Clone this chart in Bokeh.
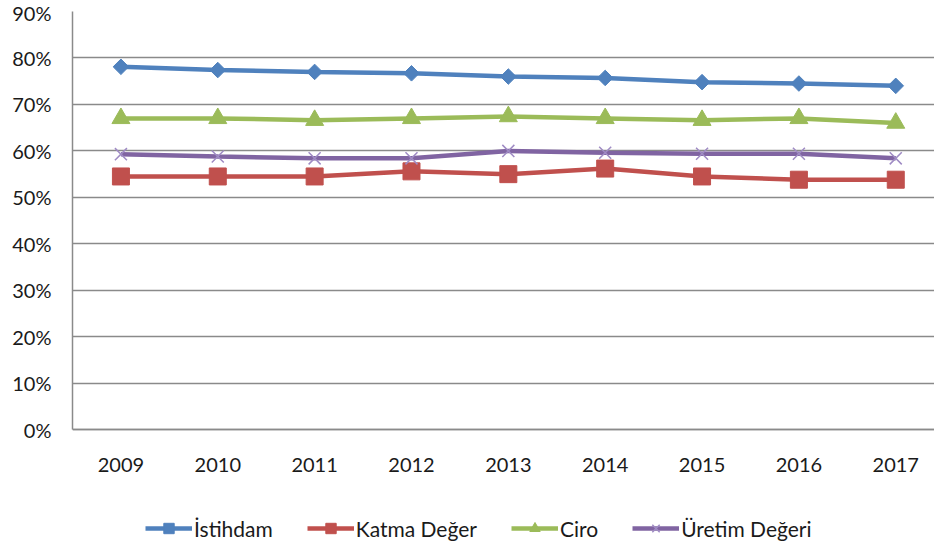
import math
from bokeh.plotting import figure
from bokeh.models import Range1d, FixedTicker, PrintfTickFormatter, Legend, LegendItem
from bokeh.embed import file_html
from bokeh.resources import INLINE

years = [2009, 2010, 2011, 2012, 2013, 2014, 2015, 2016, 2017]
istihdam = [78.1, 77.4, 77.0, 76.7, 76.0, 75.7, 74.8, 74.5, 74.0]
katma_deger = [54.5, 54.5, 54.5, 55.6, 55.0, 56.2, 54.5, 53.8, 53.8]
ciro = [67.0, 67.0, 66.6, 67.0, 67.4, 67.0, 66.6, 67.0, 66.0]
uretim_degeri = [59.3, 58.8, 58.4, 58.4, 60.0, 59.6, 59.4, 59.4, 58.4]
y_ticks = [0, 10, 20, 30, 40, 50, 60, 70, 80, 90]

series = [
    ("İstihdam", istihdam, "#4F81BD", "diamond", 11),
    ("Katma Değer", katma_deger, "#C0504D", "square", 17),
    ("Ciro", ciro, "#9BBB59", "triangle", 18),
    ("Üretim Değeri", uretim_degeri, "#8064A2", "x", 17),
]

FONT = "Lato"

p = figure(width=934, height=544, output_backend="svg", toolbar_location=None,
           x_range=Range1d(2008.5, 2017.4), y_range=Range1d(-24.7, 90),
           min_border_left=72, min_border_right=0, min_border_top=11,
           min_border_bottom=0)
p.outline_line_color = None
p.background_fill_color = "white"
p.border_fill_color = "white"

p.xgrid.grid_line_color = None
p.ygrid.grid_line_color = "#8A8A8A"
p.ygrid.grid_line_width = 1.5

p.yaxis.ticker = FixedTicker(ticks=y_ticks)
p.yaxis.formatter = PrintfTickFormatter(format="%d%%")
p.yaxis.bounds = (0, 90)
p.xaxis.ticker = FixedTicker(ticks=years)
p.xaxis.fixed_location = 0
for ax in (p.xaxis, p.yaxis):
    ax.axis_line_color = "#8A8A8A"
    ax.axis_line_width = 1.5
    ax.major_tick_line_color = None
    ax.minor_tick_line_color = None
    ax.major_tick_out = 0
    ax.major_tick_in = 0
    ax.major_label_text_font = FONT
    ax.major_label_text_font_size = "20px"
    ax.major_label_text_color = "#1a1a1a"
p.yaxis.major_label_standoff = 21
p.xaxis.major_label_standoff = 28

items = []
for name, vals, color, marker, size in series:
    r1 = p.line(years, vals, line_color=color, line_width=4.5)
    if marker == "x":
        r2 = p.scatter(years, vals, marker="x", size=size, line_color="#9F8BC4", line_width=1.5)
    elif marker == "diamond":
        r2 = p.scatter(years, vals, marker="square", angle=math.pi / 4, size=size,
                       fill_color=color, line_color=color)
    else:
        r2 = p.scatter(years, vals, marker=marker, size=size, fill_color=color, line_color=color)
    items.append(LegendItem(label=name, renderers=[r1, r2]))

legend = Legend(items=items, orientation="horizontal", location=(73, 3),
                label_text_font=FONT, label_text_font_size="21px", label_text_color="#1a1a1a",
                glyph_width=47, glyph_height=26, label_height=20, spacing=34, label_standoff=2,
                border_line_color=None, background_fill_alpha=0, margin=0, padding=0)
p.add_layout(legend, "center")

open("out.html", "w").write(file_html(p, INLINE))
